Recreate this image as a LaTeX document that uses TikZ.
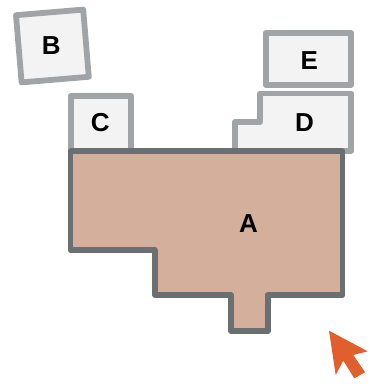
\documentclass[tikz,border=0pt]{standalone}
\usepackage{fontspec}
\setmainfont{Liberation Sans}
\definecolor{lightedge}{HTML}{A0A4A6}
\definecolor{lightfill}{HTML}{F3F3F3}
\definecolor{darkedge}{HTML}{6A7072}
\definecolor{roomfill}{HTML}{D4AF9C}
\definecolor{arrowfill}{HTML}{E05F2D}
\tikzset{
  lightroom/.style={draw=lightedge,fill=lightfill,line width=5.8pt,line join=round},
  mainroom/.style={draw=darkedge,fill=roomfill,line width=5.8pt,line join=round},
  roomlabel/.style={font=\bfseries\fontsize{26}{26}\selectfont,text=black,inner sep=0pt,anchor=center}
}
\begin{document}
\begin{tikzpicture}[x=1pt,y=-1pt]
\useasboundingbox (0,0) rectangle (370,388);
\draw[lightroom] (16,15.2) -- (83.2,9.6) -- (88.8,76.8) -- (21.6,82.4) -- cycle;
\draw[lightroom] (70.8,151) -- (70.8,95.8) -- (131,95.8) -- (131,151) -- cycle;
\draw[lightroom] (265.8,32.8) -- (351,32.8) -- (351,85) -- (265.8,85) -- cycle;
\draw[lightroom] (235,151) -- (235,122) -- (259.7,122) -- (259.7,93.5) -- (351,93.5) -- (351,151) -- cycle;
\draw[mainroom] (70.5,151.3) -- (342.5,151.3) -- (342.5,295) -- (267.8,295) -- (267.8,331) -- (231,331) -- (231,295) -- (155,295) -- (155,250) -- (70.5,250) -- cycle;
\fill[arrowfill] (329,330.7) -- (367.7,351.3) -- (353.3,355) -- (365,372.3) -- (354.3,378.3) -- (343.3,360.7) -- (335.7,375) -- cycle;
\node[roomlabel] (labelB) at (51.3,45.8) {B};
\node[roomlabel] (labelC) at (100.3,122.8) {C};
\node[roomlabel] (labelE) at (309.3,60.3) {E};
\node[roomlabel] (labelD) at (304.6,122.8) {D};
\node[roomlabel] (labelA) at (248.6,223.8) {A};
\end{tikzpicture}
\end{document}
